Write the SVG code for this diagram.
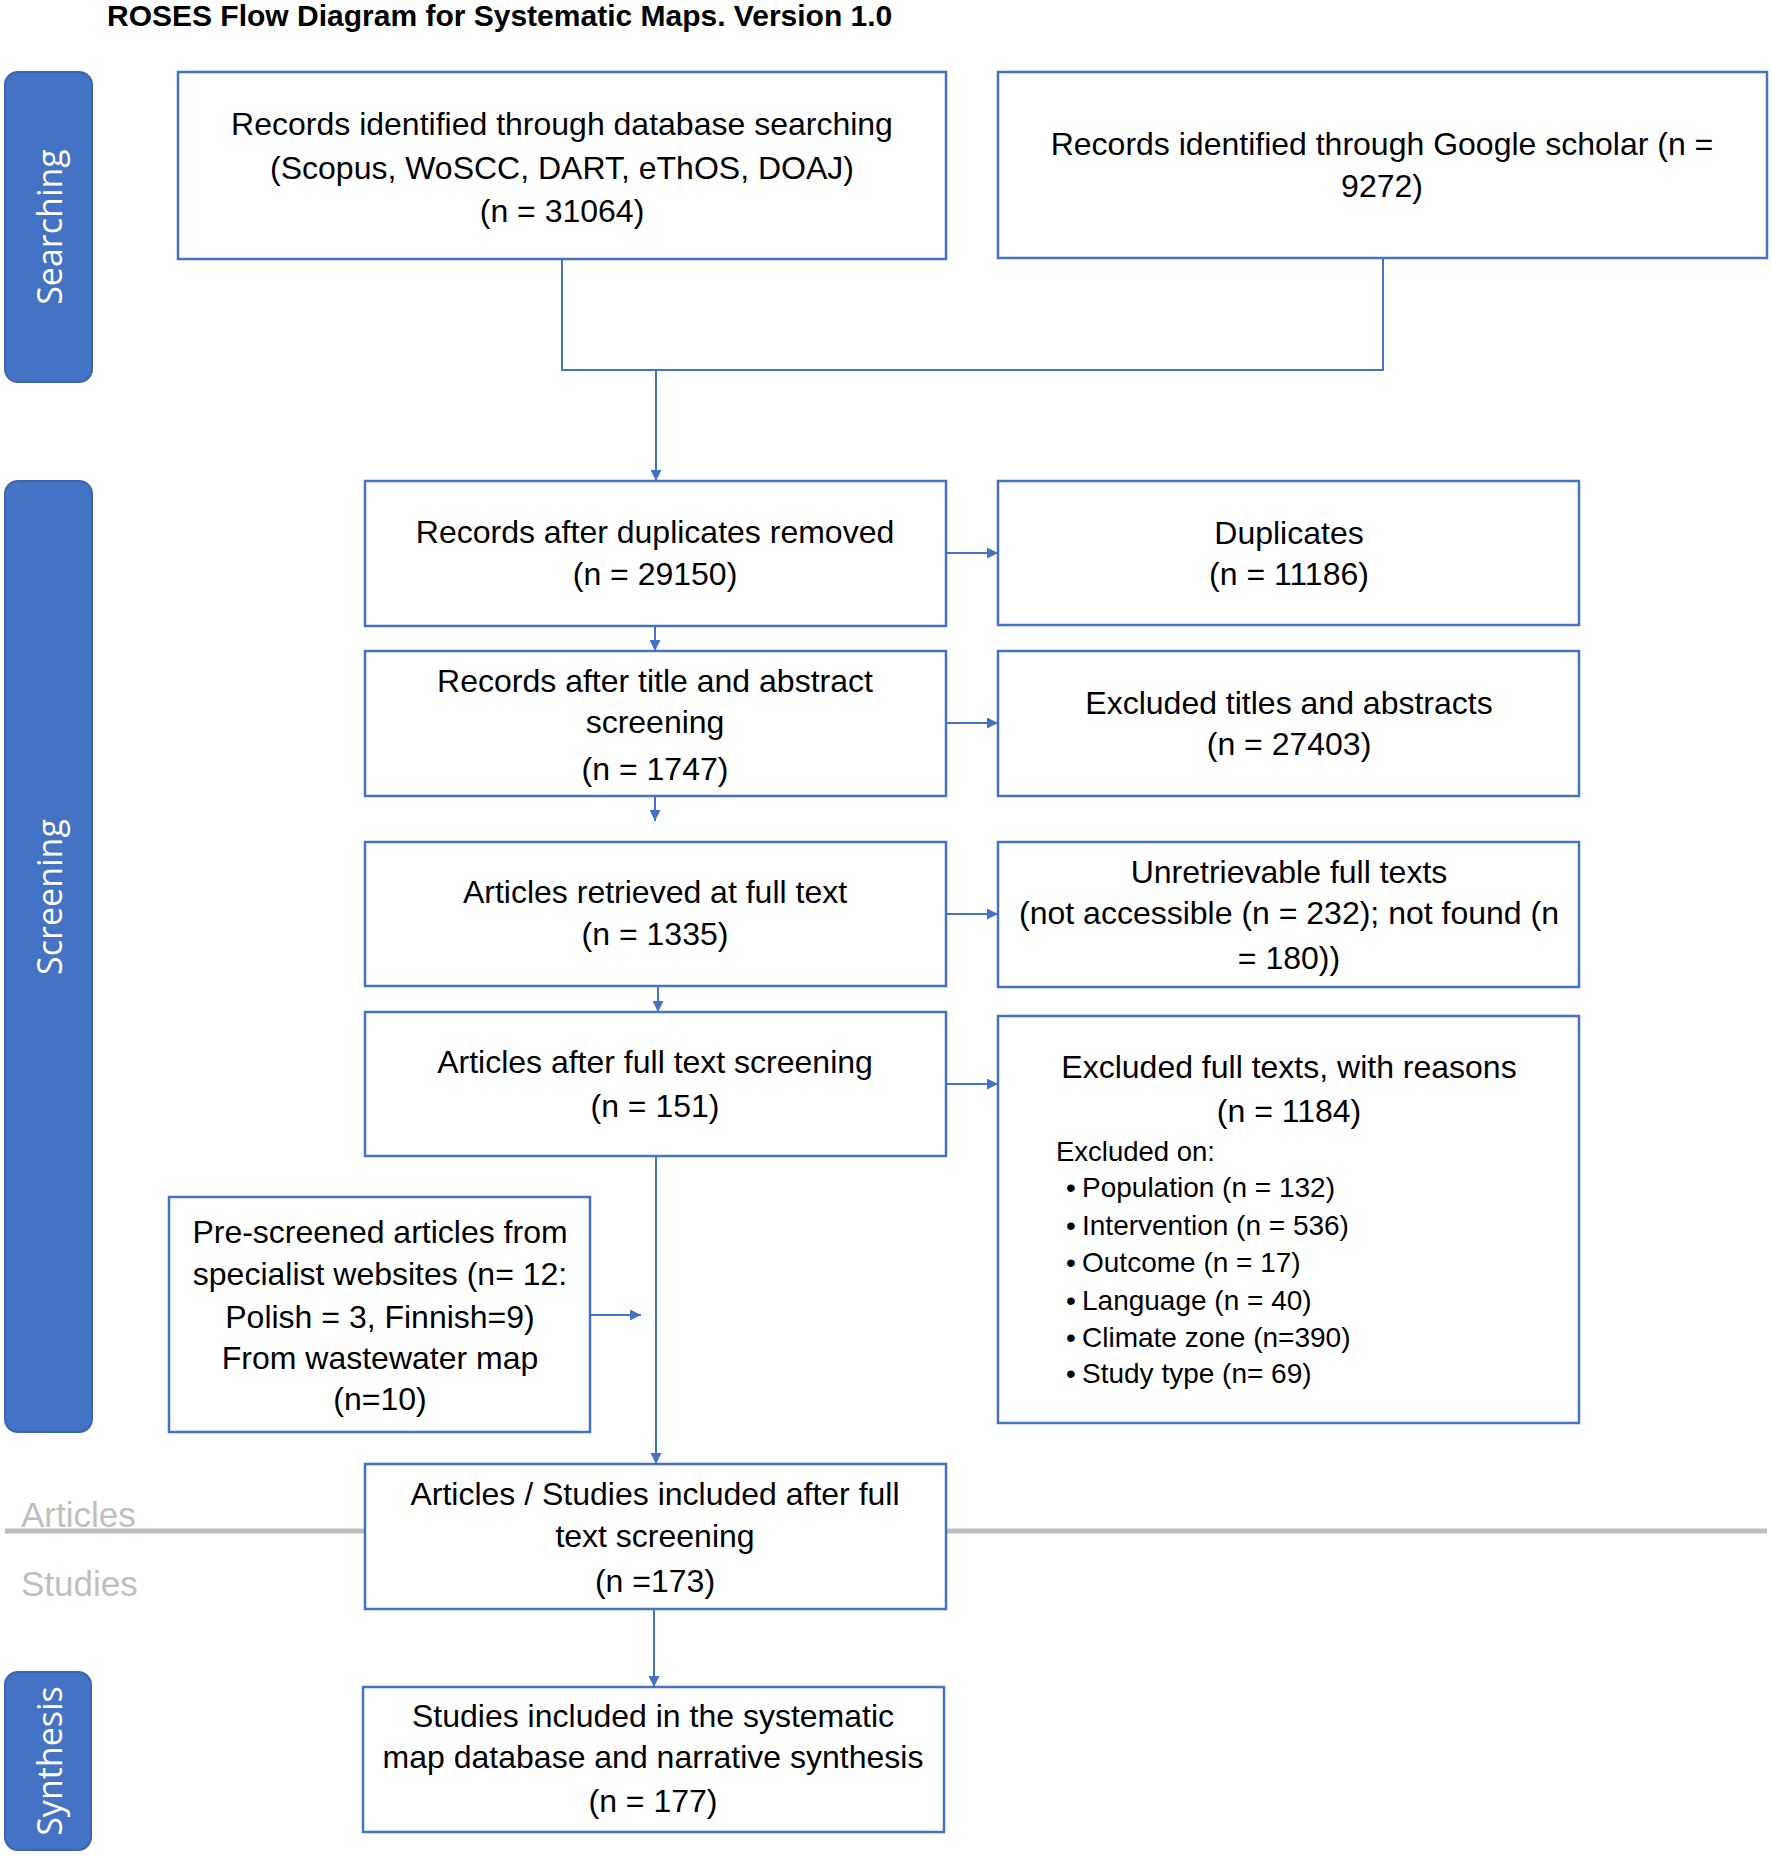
<svg xmlns="http://www.w3.org/2000/svg" width="1772" height="1856" viewBox="0 0 1772 1856">
<style>
.bg{fill:#ffffff}
.box{fill:#ffffff;stroke:#4472c4;stroke-width:2.5}
.side{fill:#4472c4;stroke:#3b65b3;stroke-width:2}
.t{font-family:"Liberation Sans",Arial,sans-serif;font-size:32px;fill:#000;text-anchor:middle}
.s{font-family:"Liberation Sans",Arial,sans-serif;font-size:28px;fill:#000}
.lab{font-family:"Open Sans","DejaVu Sans",sans-serif;font-size:34px;fill:#ffffff;text-anchor:middle}
.gray{font-family:"Liberation Sans",Arial,sans-serif;font-size:35px;fill:#bfbfbf}
.title{font-family:"Liberation Sans",Arial,sans-serif;font-size:30px;font-weight:bold;fill:#000}
.con{fill:none;stroke:#4472c4;stroke-width:2}
</style>
<defs>
<marker id="ah" markerUnits="userSpaceOnUse" markerWidth="12" markerHeight="11" refX="11" refY="5.5" orient="auto">
<path d="M0,0 L11,5.5 L0,11 z" fill="#4472c4"/>
</marker>
</defs>
<rect class="bg" x="0" y="0" width="1772" height="1856"/>
<text class="title" x="107" y="26">ROSES Flow Diagram for Systematic Maps. Version 1.0</text>

<g id="sidebar-searching">
<rect class="side" x="5" y="72" width="87" height="310" rx="13"/>
<text class="lab" transform="translate(62,227) rotate(-90)">Searching</text>
</g>
<g id="sidebar-screening">
<rect class="side" x="5" y="481" width="87" height="951" rx="13"/>
<text class="lab" transform="translate(62,897) rotate(-90)">Screening</text>
</g>
<g id="sidebar-synthesis">
<rect class="side" x="5" y="1672" width="86" height="178" rx="13"/>
<text class="lab" transform="translate(62,1761) rotate(-90)">Synthesis</text>
</g>

<g id="separator">
<line x1="5" y1="1531" x2="1767" y2="1531" stroke="#bfbfbf" stroke-width="5"/>
<text class="gray" x="21" y="1527">Articles</text>
<text class="gray" x="21" y="1596">Studies</text>
</g>

<g id="connectors">
<path class="con" d="M562,259 V370 H1383 V259"/>
<line class="con" x1="656" y1="370" x2="656" y2="481" marker-end="url(#ah)"/>
<line class="con" x1="655" y1="626" x2="655" y2="651" marker-end="url(#ah)"/>
<line class="con" x1="655" y1="796" x2="655" y2="821" marker-end="url(#ah)"/>
<line class="con" x1="658" y1="986" x2="658" y2="1012" marker-end="url(#ah)"/>
<line class="con" x1="656" y1="1156" x2="656" y2="1464" marker-end="url(#ah)"/>
<line class="con" x1="654" y1="1609" x2="654" y2="1687" marker-end="url(#ah)"/>
<line class="con" x1="946" y1="553" x2="998" y2="553" marker-end="url(#ah)"/>
<line class="con" x1="946" y1="723" x2="998" y2="723" marker-end="url(#ah)"/>
<line class="con" x1="946" y1="914" x2="998" y2="914" marker-end="url(#ah)"/>
<line class="con" x1="946" y1="1084" x2="998" y2="1084" marker-end="url(#ah)"/>
<line class="con" x1="590" y1="1315" x2="641" y2="1315" marker-end="url(#ah)"/>
</g>

<g id="n-database">
<rect class="box" x="178" y="72" width="768" height="187"/>
<text class="t" x="562" y="135">Records identified through database searching</text>
<text class="t" x="562" y="179">(Scopus, WoSCC, DART, eThOS, DOAJ)</text>
<text class="t" x="562" y="222">(n = 31064)</text>
</g>
<g id="n-google">
<rect class="box" x="998" y="72" width="769" height="186"/>
<text class="t" x="1382" y="155">Records identified through Google scholar (n =</text>
<text class="t" x="1382" y="197">9272)</text>
</g>
<g id="n-dedup">
<rect class="box" x="365" y="481" width="581" height="145"/>
<text class="t" x="655" y="543">Records after duplicates removed</text>
<text class="t" x="655" y="585">(n = 29150)</text>
</g>
<g id="n-duplicates">
<rect class="box" x="998" y="481" width="581" height="144"/>
<text class="t" x="1289" y="544">Duplicates</text>
<text class="t" x="1289" y="585">(n = 11186)</text>
</g>
<g id="n-title-abstract">
<rect class="box" x="365" y="651" width="581" height="145"/>
<text class="t" x="655" y="692">Records after title and abstract</text>
<text class="t" x="655" y="733">screening</text>
<text class="t" x="655" y="780">(n = 1747)</text>
</g>
<g id="n-excluded-ta">
<rect class="box" x="998" y="651" width="581" height="145"/>
<text class="t" x="1289" y="714">Excluded titles and abstracts</text>
<text class="t" x="1289" y="755">(n = 27403)</text>
</g>
<g id="n-retrieved">
<rect class="box" x="365" y="842" width="581" height="144"/>
<text class="t" x="655" y="903">Articles retrieved at full text</text>
<text class="t" x="655" y="945">(n = 1335)</text>
</g>
<g id="n-unretrievable">
<rect class="box" x="998" y="842" width="581" height="145"/>
<text class="t" x="1289" y="883">Unretrievable full texts</text>
<text class="t" x="1289" y="924">(not accessible (n = 232); not found (n</text>
<text class="t" x="1289" y="969">= 180))</text>
</g>
<g id="n-fulltext">
<rect class="box" x="365" y="1012" width="581" height="144"/>
<text class="t" x="655" y="1073">Articles after full text screening</text>
<text class="t" x="655" y="1117">(n = 151)</text>
</g>
<g id="n-excluded-ft">
<rect class="box" x="998" y="1016" width="581" height="407"/>
<text class="t" x="1289" y="1078">Excluded full texts, with reasons</text>
<text class="t" x="1289" y="1122">(n = 1184)</text>
<text class="s" x="1056" y="1161" style="font-size:27.5px">Excluded on:</text>
<text class="s" x="1066" y="1197">•</text><text class="s" x="1082" y="1197">Population (n = 132)</text>
<text class="s" x="1066" y="1235">•</text><text class="s" x="1082" y="1235">Intervention (n = 536)</text>
<text class="s" x="1066" y="1272">•</text><text class="s" x="1082" y="1272">Outcome (n = 17)</text>
<text class="s" x="1066" y="1310">•</text><text class="s" x="1082" y="1310">Language (n = 40)</text>
<text class="s" x="1066" y="1347">•</text><text class="s" x="1082" y="1347">Climate zone (n=390)</text>
<text class="s" x="1066" y="1383">•</text><text class="s" x="1082" y="1383">Study type (n= 69)</text>
</g>
<g id="n-prescreened">
<rect class="box" x="169" y="1197" width="421" height="235"/>
<text class="t" x="380" y="1243">Pre-screened articles from</text>
<text class="t" x="380" y="1285">specialist websites (n= 12:</text>
<text class="t" x="380" y="1328">Polish = 3, Finnish=9)</text>
<text class="t" x="380" y="1369">From wastewater map</text>
<text class="t" x="380" y="1410">(n=10)</text>
</g>
<g id="n-included">
<rect class="box" x="365" y="1464" width="581" height="145"/>
<text class="t" x="655" y="1505">Articles / Studies included after full</text>
<text class="t" x="655" y="1547">text screening</text>
<text class="t" x="655" y="1592">(n =173)</text>
</g>
<g id="n-synthesis">
<rect class="box" x="363" y="1687" width="581" height="145"/>
<text class="t" x="653" y="1727">Studies included in the systematic</text>
<text class="t" x="653" y="1768">map database and narrative synthesis</text>
<text class="t" x="653" y="1812">(n = 177)</text>
</g>
</svg>
